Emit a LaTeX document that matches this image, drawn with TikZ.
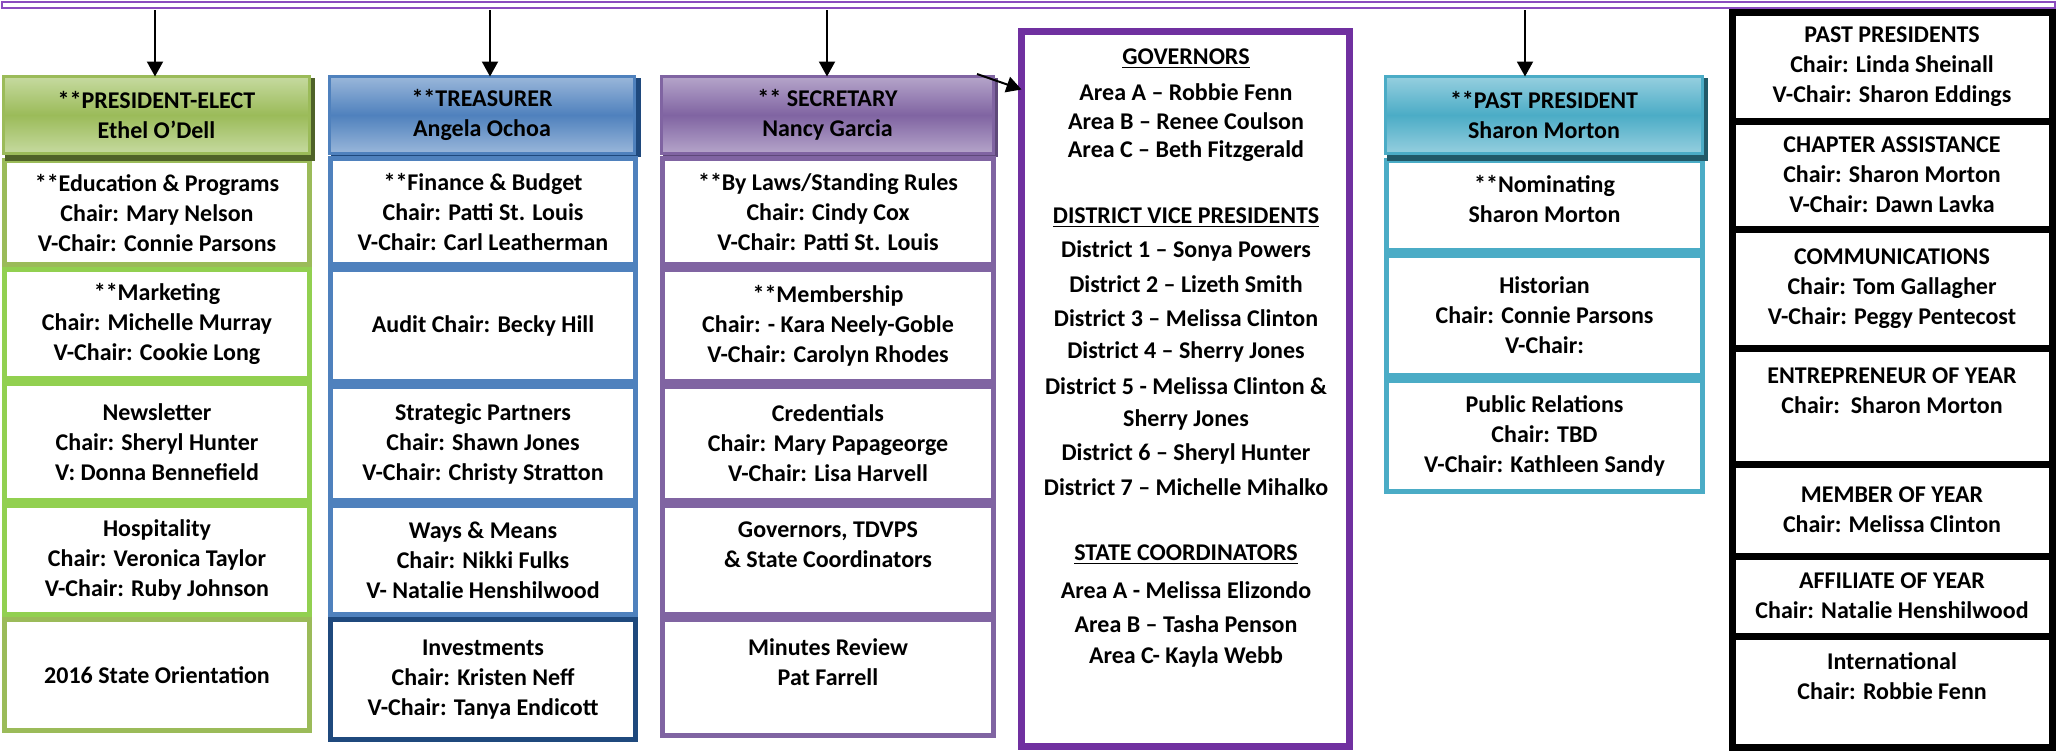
\documentclass[tikz,border=0pt]{standalone}
\usepackage{fontspec}
\setmainfont{Carlito}
\usetikzlibrary{arrows.meta,calc}
\definecolor{gOlive}{HTML}{9BBB59}
\definecolor{gBright}{HTML}{92D050}
\definecolor{gDark}{HTML}{4F6228}
\definecolor{gLight}{HTML}{C6DAA0}
\definecolor{bMid}{HTML}{4F81BD}
\definecolor{bLight}{HTML}{9AB7DA}
\definecolor{bNavy}{HTML}{1F497D}
\definecolor{pMid}{HTML}{8064A2}
\definecolor{pLight}{HTML}{B5A5CA}
\definecolor{pDark}{HTML}{5F497A}
\definecolor{tMid}{HTML}{4BACC6}
\definecolor{tLight}{HTML}{96CFDF}
\definecolor{tDark}{HTML}{215968}
\definecolor{govP}{HTML}{7030A0}
\definecolor{barP}{HTML}{8A4CBF}
% #1 style, #2 name, #3 x1, #4 y1, #5 x2, #6 y2, #7 text, #8 inset (px)
\newcommand\cbox[8]{%
  \pgfmathsetmacro\cbw{(#5-#3-#8)*0.5}%
  \pgfmathsetmacro\cbh{(#6-#4-#8)*0.5}%
  \node[#1, minimum width=\cbw pt, minimum height=\cbh pt] (#2) at ({(#3+#5)/2},{(#4+#6)/2}) {#7};}
\begin{document}
\begin{tikzpicture}[x=0.5pt,y=-0.5pt,
  txt/.style={font=\fontsize{12}{15}\selectfont\bfseries, align=center, inner sep=0pt, outer sep=0pt, text=black},
  cell/.style={txt, rectangle, draw, fill=white, line width=2.5pt},
  hdr/.style={txt, rectangle, draw, line width=1.5pt},
  blk/.style={txt, rectangle, draw=black, fill=white, line width=3.5pt},
  shad/.style={rectangle, inner sep=0pt, outer sep=0pt},
  arr/.style={-{Triangle[width=8pt,length=7.5pt]}, line width=1pt, black}]
\useasboundingbox (0,0) rectangle (2059,752);
% top bar
\cbox{draw=barP, line width=1pt, rectangle, inner sep=0pt, outer sep=0pt}{topbar}{1}{1}{2056}{9}{}{2}
% ---------- green column ----------
\cbox{cell, draw=gOlive}{g1}{2}{158}{312}{267}{**Education \& Programs\\Chair: Mary Nelson\\V-Chair: Connie Parsons}{5}
\cbox{cell, draw=gBright}{g2}{2}{267}{312}{381}{**Marketing\\Chair: Michelle Murray\\V-Chair: Cookie Long}{5}
\cbox{cell, draw=gBright}{g3}{2}{381}{312}{503}{Newsletter\\Chair: Sheryl Hunter\\V: Donna Bennefield}{5}
\cbox{cell, draw=gBright}{g4}{2}{503}{312}{617}{Hospitality\\Chair: Veronica Taylor\\V-Chair: Ruby Johnson}{5}
\cbox{cell, draw=gOlive}{g5}{2}{617}{312}{733}{2016 State Orientation}{5}
\cbox{shad, fill=gDark}{gsh}{5}{78}{315}{161}{}{0}
\cbox{hdr, draw=gOlive, top color=gLight, bottom color=gLight, middle color=gOlive}{pe}{2}{75}{311}{155}{**PRESIDENT-ELECT\\Ethel O’Dell}{3}
% ---------- blue column ----------
\cbox{shad, fill=bNavy}{bsh}{331}{78}{641}{157}{}{0}
\cbox{cell, draw=bMid}{b1}{328}{156}{638}{267}{**Finance \& Budget\\Chair: Patti St. Louis\\V-Chair: Carl Leatherman}{5}
\cbox{cell, draw=bMid}{b2}{328}{267}{638}{384}{Audit Chair: Becky Hill}{5}
\cbox{cell, draw=bMid}{b3}{328}{384}{638}{503}{Strategic Partners\\Chair: Shawn Jones\\V-Chair: Christy Stratton}{5}
\cbox{cell, draw=bMid}{b4}{328}{503}{638}{617}{Ways \& Means\\Chair: Nikki Fulks\\V- Natalie Henshilwood}{5}
\cbox{cell, draw=bNavy}{b5}{328}{617}{638}{742}{Investments\\Chair: Kristen Neff\\V-Chair: Tanya Endicott}{5}
\cbox{hdr, draw=bMid, top color=bLight, bottom color=bLight, middle color=bMid}{tr}{328}{75}{636}{155}{**TREASURER\\Angela Ochoa}{3}
% ---------- purple column ----------
\cbox{shad, fill=pDark}{psh}{663}{78}{998}{157}{}{0}
\cbox{cell, draw=pMid}{p1}{660}{156}{996}{267}{**By Laws/Standing Rules\\Chair: Cindy Cox\\V-Chair: Patti St. Louis}{5}
\cbox{cell, draw=pMid}{p2}{660}{267}{996}{384}{**Membership\\Chair: - Kara Neely-Goble\\V-Chair: Carolyn Rhodes}{5}
\cbox{cell, draw=pMid}{p3}{660}{384}{996}{503}{Credentials\\Chair: Mary Papageorge\\V-Chair: Lisa Harvell}{5}
\cbox{cell, draw=pMid}{p4}{660}{503}{996}{617}{Governors, TDVPS\\\& State Coordinators\\\mbox{}}{5}
\cbox{cell, draw=pMid}{p5}{660}{617}{996}{738}{Minutes Review\\Pat Farrell\\\mbox{}}{5}
\cbox{hdr, draw=pMid, top color=pLight, bottom color=pLight, middle color=pMid}{se}{660}{75}{995}{155}{** SECRETARY\\Nancy Garcia}{3}
% ---------- governors box ----------
\cbox{rectangle, draw=govP, fill=white, line width=3.5pt, inner sep=0pt, outer sep=0pt}{gov}{1018}{28}{1353}{750}{}{7}
\node[txt] (v1) at (1186,59) {\underline{GOVERNORS}};
\node[txt] (v2) at (1186,92) {Area A – Robbie Fenn};
\node[txt] (v3) at (1186,121) {Area B – Renee Coulson};
\node[txt] (v4) at (1186,151) {Area C – Beth Fitzgerald};
\node[txt] (v5) at (1186,218) {\underline{DISTRICT VICE PRESIDENTS}};
\node[txt] (v6) at (1186,251) {District 1 – Sonya Powers};
\node[txt] (v7) at (1186,284) {District 2 – Lizeth Smith};
\node[txt] (v8) at (1186,318) {District 3 – Melissa Clinton};
\node[txt] (v9) at (1186,352) {District 4 – Sherry Jones};
\node[txt] (v10) at (1186,386) {District 5 - Melissa Clinton \&};
\node[txt] (v11) at (1186,420) {Sherry Jones};
\node[txt] (v12) at (1186,454) {District 6 – Sheryl Hunter};
\node[txt] (v13) at (1186,487) {District 7 – Michelle Mihalko};
\node[txt] (v14) at (1186,555) {\underline{STATE COORDINATORS}};
\node[txt] (v15) at (1186,590) {Area A - Melissa Elizondo};
\node[txt] (v16) at (1186,624) {Area B – Tasha Penson};
\node[txt] (v17) at (1186,657) {Area C- Kayla Webb};
% ---------- teal column ----------
\cbox{cell, draw=tMid}{t1}{1384}{158}{1705}{253}{**Nominating\\Sharon Morton\\[-8pt]\mbox{}}{5}
\cbox{cell, draw=tMid}{t2}{1384}{253}{1705}{378}{Historian\\Chair: Connie Parsons\\V-Chair:}{5}
\cbox{cell, draw=tMid}{t3}{1384}{378}{1705}{494}{Public Relations\\Chair: TBD\\V-Chair: Kathleen Sandy}{5}
\cbox{shad, fill=tDark}{tsh}{1387}{78}{1708}{161}{}{0}
\cbox{hdr, draw=tMid, top color=tLight, bottom color=tLight, middle color=tMid}{pp}{1384}{75}{1704}{155}{**PAST PRESIDENT\\Sharon Morton}{3}
% ---------- black column ----------
\cbox{blk}{k1}{1732}{12}{2052}{121}{PAST PRESIDENTS\\Chair: Linda Sheinall\\V-Chair: Sharon Eddings}{0}
\cbox{blk}{k2}{1732}{121}{2052}{229}{CHAPTER ASSISTANCE\\Chair: Sharon Morton\\V-Chair: Dawn Lavka}{0}
\cbox{blk}{k3}{1732}{229}{2052}{348}{COMMUNICATIONS\\Chair: Tom Gallagher\\V-Chair: Peggy Pentecost}{0}
\cbox{blk}{k4}{1732}{348}{2052}{464}{ENTREPRENEUR OF YEAR\\Chair:\ \ Sharon Morton\\\mbox{}}{0}
\cbox{blk}{k5}{1732}{464}{2052}{556}{MEMBER OF YEAR\\Chair: Melissa Clinton}{0}
\cbox{blk}{k6}{1732}{556}{2052}{636}{AFFILIATE OF YEAR\\Chair: Natalie Henshilwood}{0}
\cbox{blk}{k7}{1732}{636}{2052}{747}{International\\Chair: Robbie Fenn\\\mbox{}}{0}
% ---------- arrows ----------
\coordinate (a1) at (155,10);
\coordinate (a2) at (490,10);
\coordinate (a3) at (827,10);
\coordinate (a4) at (1525,10);
\draw[arr] (a1) -- (a1 |- pe.north);
\draw[arr] (a2) -- (a2 |- tr.north);
\draw[arr] (a3) -- (a3 |- se.north);
\draw[arr] (a4) -- (a4 |- pp.north);
\coordinate (gs) at (977,74);
\draw[arr] (gs) -- ($(gov.north west)+(0,58)$);
\end{tikzpicture}
\end{document}
